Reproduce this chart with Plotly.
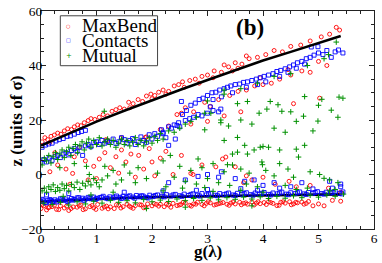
import plotly.graph_objects as go

# ---------------- fit lines ----------------
fit_x = [0, 0.5, 1, 1.5, 2, 2.5, 3, 3.5, 4, 4.5, 5, 5.4]
fit_upper_z = [10.6, 15.0, 19.4, 23.4, 27.3, 31.0, 34.7, 38.3, 41.8, 45.0, 48.3, 50.8]
fit_lower_z = [-9.9, -9.4, -8.9, -8.6, -8.3, -8.1, -7.9, -7.8, -7.6, -7.5, -7.4, -7.3]

# ---------------- MaxBend (red) ----------------
maxbend_upper = [(0.02,12.0),(0.07,13.5),(0.12,12.8),(0.18,14.0),(0.24,14.5),(0.3,15.2),(0.36,14.8),(0.42,16.0),
    (0.48,16.8),(0.55,16.5),(0.6,17.5),(0.66,18.2),(0.72,17.9),(0.78,19.0),(0.85,19.8),(0.9,20.5),(0.97,20.2),
    (1.05,21.0),(1.12,22.0),(1.2,21.5),(1.28,23.2),(1.35,23.8),(1.42,24.5),(1.5,24.0),(1.58,26.5),(1.66,26.0),
    (1.75,27.5),(1.83,26.8),(1.9,28.8),(1.98,29.5),(2.05,29.0),(2.12,30.2),(2.2,31.0),(2.3,30.5),(2.4,32.5),
    (2.48,33.0),(2.58,32.0),(2.68,34.5),(2.78,35.0),(2.9,36.0),(3.0,36.5),(3.12,38.0),(3.25,37.5),(3.38,39.5),
    (3.5,41.0),(3.62,40.5),(3.75,42.5),(3.9,43.0),(4.05,44.0),(4.2,45.5),(4.35,45.0),(4.5,47.0),(4.68,47.5),
    (4.85,49.0),(5.05,50.5),(5.2,51.5),(5.32,54.0),(5.38,53.0),(1.6,24.5),(2.0,27.8),(2.25,29.5),(2.55,34.0),
    (2.85,33.5),(3.1,35.5),(3.3,40.2),(3.55,39.0),(3.7,43.5),(3.45,38.0)]
maxbend_mid = [(2.45,22.0),(2.6,24.5),(2.75,23.0),(2.95,26.5),(3.05,25.0),(3.2,27.5),(3.4,29.0),(3.55,30.5),
    (3.7,31.0),(3.85,32.5),(4.0,33.0),(4.15,33.5),(4.3,35.0),(4.5,36.5),(4.7,38.0),(4.85,37.5),(5.0,41.5),
    (5.15,40.0),(4.45,38.5),(3.95,35.5),(1.2,12.5),(1.45,13.5),(1.9,13.8),(2.3,17.8),(2.53,22.5),(2.15,16.5),
    (2.7,18.5),(3.0,19.5),(3.6,23.0),(4.55,26.0),(5.02,28.0),(3.3,21.5),(0.16,11.8),(1.17,12.8),(1.88,13.6)]
maxbend_scatter = [(0.16,1.0),(0.3,3.5),(0.45,2.0),(0.57,0.4),(0.52,-3.6),(0.69,10.0),(0.8,5.0),(0.95,3.0),
    (1.05,5.7),(1.15,8.0),(1.25,2.5),(1.35,6.5),(1.45,9.0),(1.53,4.6),(1.62,7.5),(1.76,7.0),(1.85,2.0),
    (1.95,9.5),(2.0,4.6),(2.05,-0.5),(2.15,6.0),(2.25,8.5),(2.38,0.0),(2.53,7.0),(2.7,0.4),(2.74,0.0),
    (3.15,2.8),(3.27,5.7),(3.33,6.4),(3.5,2.8),(0.25,8.0),(0.6,6.5),(1.0,-1.5),(1.4,0.5),(0.85,-2.0),
    (2.9,3.5),(3.7,-0.5),(1.7,-1.0),(3.8,-2.0),(4.0,-1.0),(4.22,-3.6),(4.47,-2.5),(4.85,-4.0),(5.18,-5.0),
    (5.4,-6.5),(3.65,-3.0),(4.6,-4.5)]
maxbend_lower = [(0.0,-12.5),(0.05,-11.5),(0.1,-13.0),(0.15,-12.0),(0.2,-11.8),(0.28,-12.8),(0.35,-11.5),
    (0.42,-12.3),(0.5,-13.2),(0.58,-11.9),(0.65,-12.0),(0.72,-11.2),(0.8,-12.6),(0.88,-11.8),(0.95,-12.2),
    (1.02,-11.0),(1.1,-12.4),(1.18,-11.6),(1.25,-11.9),(1.32,-12.5),(1.4,-11.3),(1.48,-11.8),(1.55,-10.9),
    (1.62,-12.0),(1.7,-11.4),(1.78,-11.1),(1.85,-12.2),(1.92,-10.8),(2.0,-11.5),(2.08,-11.0),(2.15,-10.9),
    (2.22,-11.8),(2.3,-11.2),(2.38,-10.6),(2.45,-11.4),(2.52,-11.0),(2.6,-10.5),(2.68,-11.3),(2.75,-10.8),
    (2.82,-10.2),(2.9,-11.0),(2.98,-10.6),(3.05,-10.4),(3.12,-11.2),(3.2,-10.7),(3.28,-10.3),(3.35,-10.9),
    (3.42,-10.5),(3.5,-10.8),(3.58,-10.2),(3.65,-10.6),(3.72,-10.9),(3.8,-10.1),(3.88,-10.5),(3.95,-10.7),
    (4.02,-10.3),(4.1,-10.0),(4.18,-10.6),(4.25,-11.4),(4.32,-10.2),(4.4,-10.5),(4.48,-10.0),(4.55,-10.8),
    (4.62,-10.4),(4.7,-10.1),(4.78,-10.6),(4.9,-11.5),(5.0,-10.8),(5.1,-11.5),(5.25,-9.5),(5.4,-9.8),
    (0.03,-11.0),(0.13,-12.2),(0.24,-11.3),(0.32,-12.9),(0.46,-11.6),(0.54,-12.5),(0.69,-11.5),(0.76,-12.9),
    (0.92,-11.4),(0.99,-12.8),(1.14,-11.9),(1.21,-12.6),(1.36,-11.1),(1.44,-12.3),(1.59,-11.6),(1.66,-12.4),
    (1.81,-11.2),(1.89,-12.0),(2.04,-10.7),(2.12,-11.6),(2.26,-10.9),(2.34,-12.0),(2.49,-11.2),(2.56,-10.2),
    (2.71,-11.6),(2.79,-10.9),(2.94,-11.5),(3.01,-10.0),(3.16,-11.0),(3.24,-10.5),(3.39,-11.3),(3.46,-10.1),
    (3.61,-11.1),(3.69,-10.4),(3.84,-11.2),(3.91,-10.0),(4.06,-11.0),(4.14,-10.3),(4.29,-11.3),(4.36,-10.0),
    (4.51,-11.1),(4.59,-10.2),(4.74,-10.9),(4.82,-9.9)]

# ---------------- Contacts (blue) ----------------
contacts_top = [(0.02,10.0),(0.08,10.8),(0.14,11.2),(0.2,11.5),(0.27,12.3),(0.33,12.8),(0.4,13.2),(0.47,14.0),
    (0.53,14.2),(0.6,14.8),(0.67,15.4),(0.73,15.8),(0.8,16.2)]
contacts_mid = [(0.0,4.5),(0.05,5.5),(0.1,4.6),(0.15,6.0),(0.2,5.2),(0.25,6.5),(0.3,7.0),(0.35,6.2),(0.4,7.5),
    (0.45,8.0),(0.5,7.2),(0.55,8.8),(0.6,9.5),(0.65,8.5),(0.7,10.0),(0.75,7.0),(0.8,10.5),(0.85,11.0),(0.9,10.2),
    (0.95,11.8),(1.0,12.0),(1.05,11.0),(1.1,12.5),(1.15,11.5),(1.2,12.2),(1.23,11.8),(1.3,13.0),(1.35,11.4),
    (1.4,12.0),(1.45,13.5),(1.5,12.8),(1.55,11.5),(1.6,12.5),(1.65,13.2),(1.7,11.0),(1.75,12.0),(1.8,13.8),
    (1.85,12.5),(1.9,11.8),(1.95,14.6),(2.0,13.0),(2.05,15.0),(2.1,14.0),(2.17,16.4),(2.2,15.5),(2.25,13.5),
    (2.3,10.7),(2.35,17.0),(2.42,13.0),(2.45,18.0),(2.5,17.5)]
contacts_rise = [(2.55,22.0),(2.62,23.5),(2.7,25.4),(2.78,26.2),(2.85,27.5),(2.92,28.0),(3.0,29.0),(3.08,30.0),
    (3.15,30.2),(3.22,31.0),(3.3,31.5),(3.36,32.0),(3.42,32.5),(3.5,33.0),(3.58,33.2),(3.65,33.8),(3.72,34.0),
    (3.8,34.5),(3.88,35.0),(3.95,35.5),(4.02,36.0),(4.1,36.5),(4.18,37.0),(4.25,37.8),(4.32,38.2),(4.4,38.8),
    (4.48,39.5),(4.55,40.2),(4.62,41.0),(4.7,41.5),(4.78,42.5),(4.85,43.0),(4.92,43.8),(5.0,44.6),(5.08,44.0),
    (5.15,45.5),(5.23,43.0),(5.3,45.0),(5.36,45.7),(5.44,44.6),(4.87,46.8),(4.99,46.9),(3.1,27.5),(3.45,30.0),
    (3.9,33.0),(4.3,36.0),(4.6,39.0),(4.05,34.0),(3.25,28.5),(3.7,32.0),(4.45,37.5),(4.75,40.5),
    (2.2,15.0),(2.3,17.5),(2.4,18.2),(2.48,19.0),(2.6,19.8),(2.68,20.5),(2.75,21.0),(2.83,22.0),(2.9,21.5),
    (3.0,22.5),(3.1,23.5),(3.2,23.0),(3.24,24.0),(2.53,26.8),(3.05,24.8)]
contacts_scatter = [(2.3,-3.0),(2.83,-0.7),(3.0,0.0),(3.2,-1.0),(3.25,1.0),(3.67,-2.5),(3.84,-2.0),(4.0,-4.0),
    (4.2,-3.0),(4.7,-3.0),(5.2,-2.5),(5.4,-3.5),(4.5,-4.5),(3.5,-1.5),(2.6,-2.0),(0.1,-7.5),(0.5,-7.0),
    (1.5,-6.5),(2.2,-6.0),(3.0,-5.5),(3.6,-5.2),(4.3,-5.0),(4.9,-5.3),(5.25,-5.0),(5.4,-4.5),(2.8,-5.8),(3.9,-5.8)]
contacts_lower = [(0.0,-9.9),(0.04,-9.4),(0.08,-10.2),(0.12,-9.6),(0.16,-9.2),(0.2,-9.9),(0.25,-9.3),(0.3,-9.7),
    (0.35,-8.9),(0.4,-9.5),(0.45,-9.0),(0.5,-9.6),(0.55,-8.8),(0.6,-9.2),(0.65,-8.6),(0.7,-9.3),(0.75,-8.7),
    (0.8,-9.0),(0.85,-8.4),(0.9,-8.9),(0.95,-8.3),(1.0,-8.8),(1.06,-8.5),(1.12,-8.0),(1.18,-8.7),(1.24,-8.2),
    (1.3,-8.6),(1.36,-7.9),(1.42,-8.4),(1.48,-8.0),(1.54,-8.5),(1.6,-7.8),(1.66,-8.3),(1.72,-7.7),(1.78,-8.2),
    (1.84,-7.9),(1.9,-8.4),(1.96,-7.6),(2.02,-8.1),(2.1,-7.5),(2.18,-8.0),(2.26,-7.4),(2.34,-7.9),(2.42,-7.3),
    (2.5,-7.8),(2.58,-7.2),(2.66,-7.7),(2.74,-7.1),(2.82,-7.6),(2.9,-7.0),(2.98,-7.5),(3.06,-6.9),(3.14,-7.6),
    (3.22,-7.0),(3.3,-7.4),(3.38,-6.8),(3.46,-7.5),(3.54,-6.9),(3.62,-7.3),(3.7,-6.7),(3.78,-7.4),(3.86,-6.8),
    (3.94,-7.2),(4.02,-6.6),(4.1,-7.3),(4.18,-6.8),(4.26,-7.1),(4.34,-6.5),(4.42,-7.2),(4.5,-6.7),(4.58,-7.0),
    (4.66,-6.4),(4.74,-7.1),(4.82,-6.6),(4.9,-6.9),(4.98,-6.3),(5.06,-7.0),(5.14,-6.5),(5.22,-6.8),(5.3,-6.2),
    (5.38,-6.9),(5.44,-6.4),
    (0.02,-9.1),(0.1,-10.4),(0.18,-9.5),(0.28,-10.1),(0.38,-9.0),(0.48,-9.9),(0.58,-9.4),(0.68,-8.5),(0.78,-9.5),
    (0.88,-8.7),(0.98,-9.2),(1.09,-8.4),(1.21,-8.9),(1.33,-8.3),(1.45,-8.8),(1.57,-8.1),(1.69,-8.7),(1.81,-7.8),
    (1.93,-8.6),(2.06,-7.7),(2.22,-8.2),(2.38,-7.5),(2.54,-8.0),(2.7,-7.3),(2.86,-7.9),(3.02,-7.2),(3.18,-7.8),
    (3.34,-7.1),(3.5,-7.7),(3.66,-7.0),(3.82,-7.6),(3.98,-6.9),(4.14,-7.5),(4.3,-6.8),(4.46,-7.4),(4.62,-6.7),
    (4.78,-7.3),(4.94,-6.6),(5.1,-7.2),(5.26,-6.6),(5.42,-7.1)]

# ---------------- Mutual (green) ----------------
mutual_mid = [(0.02,3.5),(0.06,6.0),(0.1,5.0),(0.14,7.0),(0.18,4.2),(0.22,6.5),(0.26,8.0),(0.3,5.5),(0.34,7.5),
    (0.38,9.0),(0.42,6.2),(0.46,8.5),(0.5,10.0),(0.54,7.0),(0.58,9.5),(0.62,11.0),(0.66,8.0),(0.7,10.5),
    (0.74,12.0),(0.78,9.0),(0.82,11.5),(0.86,13.0),(0.9,10.0),(0.95,12.5),(1.0,11.0),(1.05,13.5),(1.1,10.5),
    (1.15,12.0),(1.2,13.0),(1.25,11.0),(1.3,12.5),(1.35,10.0),(1.4,11.5),(1.45,13.0),(1.5,11.0),(1.55,12.5),
    (1.6,10.5),(1.65,12.0),(1.7,13.5),(1.75,11.0),(1.8,12.5),(1.85,10.5),(1.9,12.0),(1.95,13.5),(2.0,11.5),
    (2.05,14.0),(2.1,12.5),(2.15,15.0),(2.2,13.0),(2.3,16.0),(2.4,15.5),(2.5,17.0),(2.6,18.5),(2.7,19.5),
    (2.8,21.0),(2.95,22.5),(1.14,23.2),(0.34,2.5),(0.6,4.0),(0.82,3.0)]
mutual_upper = [(3.0,27.0),(3.3,29.5),(3.6,31.5),(3.9,33.5),(4.2,36.0),(4.5,37.0),(4.8,40.0),(5.1,42.5),
    (5.32,48.6),(5.18,44.0),(3.3,31.0),
    (3.06,22.5),(3.24,20.0),(3.54,26.0),(3.72,26.8),(3.6,20.0),(3.24,19.0),(3.38,17.8),(2.95,16.4),
    (4.07,24.0),(4.13,26.8),(4.27,25.6),(4.34,23.2),(4.73,21.4),(5.0,25.4),(5.06,27.6),(5.23,23.6),(5.37,28.4),
    (4.9,16.0),(3.93,22.5),(4.75,28.6),(4.99,19.6),(4.5,23.0),(4.6,19.5),(4.2,17.0),(5.44,28.0),(5.35,21.0),
    (3.8,18.5),(4.4,15.5)]
mutual_scatter = [(2.33,7.0),(2.83,5.7),(3.54,8.2),(3.72,7.5),(3.84,9.0),(3.98,4.6),(3.95,10.0),(4.0,10.3),
    (4.1,10.0),(3.99,3.6),(4.3,9.0),(4.3,4.0),(4.6,9.3),(4.75,10.7),(4.64,6.4),(5.02,0.0),(5.1,-1.4),
    (3.54,13.6),(3.3,12.5),(3.67,10.7),(3.45,7.5),(3.36,3.6),(2.5,3.0),(2.7,1.5),(2.9,2.5),(3.1,4.0),
    (3.3,1.0),(3.45,3.5),(3.6,2.0),(3.75,0.5),(4.05,1.5),(4.2,-0.5),(4.45,2.0),(4.55,-1.0),(4.85,1.0),
    (5.2,-2.0),(5.35,-3.0),(2.2,5.0),(2.4,-1.0),(2.6,-2.5),(2.8,-3.5),(3.0,-1.5),(3.2,-3.0),(3.4,-4.0),
    (3.7,-3.5),(3.9,-4.5),(4.4,-4.0),(4.8,-5.0),(5.3,-5.5),(2.1,0.5),(2.25,-4.5),(2.55,-5.0),(2.95,-4.8)]
mutual_low_left = [(0.02,-6.0),(0.06,-5.0),(0.1,-6.5),(0.14,-4.5),(0.18,-5.5),(0.22,-3.8),(0.26,-6.2),
    (0.3,-4.8),(0.34,-5.8),(0.38,-3.5),(0.42,-5.2),(0.46,-4.0),(0.5,-6.0),(0.55,-3.6),(0.6,-4.8),(0.65,-2.8),
    (0.7,-5.5),(0.75,-3.2),(0.8,-4.2),(0.85,-2.5),(0.9,-3.8),(0.95,-1.5),(1.0,-3.0),(1.05,-4.5),(1.1,-2.0),
    (0.87,0.0),(1.2,-0.5),(1.3,1.5),(1.45,-2.0),(1.6,0.5),(1.75,2.5),(1.9,-1.5),(1.15,3.0),(1.35,-3.5),
    (1.5,3.5),(1.7,-3.0)]
mutual_lower = [(0.05,-10.5),(0.2,-11.0),(0.35,-10.2),(0.5,-11.2),(0.65,-10.0),(0.8,-10.8),(0.95,-9.8),
    (1.1,-10.5),(1.25,-9.5),(1.4,-10.2),(1.55,-9.6),(1.7,-10.4),(1.85,-9.2),(2.0,-10.0),(2.15,-9.4),(2.3,-9.9),
    (2.45,-9.0),(2.6,-9.6),(2.75,-8.8),(2.9,-9.5),(3.05,-8.6),(3.2,-9.3),(3.35,-8.5),(3.5,-9.1),(3.65,-8.3),
    (3.8,-9.0),(3.95,-8.2),(4.1,-8.8),(4.25,-8.0),(4.4,-8.7),(4.55,-7.8),(4.7,-8.5),(4.85,-7.6),(5.0,-8.3),
    (5.15,-7.5),(5.3,-8.0),(5.45,-7.2),(1.3,-6.5),(2.2,-6.0),(3.1,-6.2),(3.6,-5.8),(4.0,-6.5),(4.6,-5.5),
    (5.2,-6.0),(0.4,-8.0),(0.9,-7.5),(2.6,-12.0),(1.9,-12.5),(3.8,-11.5)]

maxbend = maxbend_upper + maxbend_mid + maxbend_scatter + maxbend_lower
contacts = contacts_top + contacts_mid + contacts_rise + contacts_scatter + contacts_lower
mutual = mutual_mid + mutual_upper + mutual_scatter + mutual_low_left + mutual_lower

RED, BLUE, GREEN = "#ff0000", "#0000ff", "#009000"
SERIF = "Liberation Serif"

fig = go.Figure()
fig.add_trace(go.Scatter(x=fit_x, y=fit_lower_z, mode="lines", line=dict(color="black", width=2.6),
                         showlegend=False, hoverinfo="skip"))
fig.add_trace(go.Scatter(x=[p[0] for p in maxbend], y=[p[1] for p in maxbend], mode="markers", name="MaxBend",
                         marker=dict(symbol="circle-open", size=4, color=RED, line=dict(width=0.9, color=RED))))
fig.add_trace(go.Scatter(x=[p[0] for p in contacts], y=[p[1] for p in contacts], mode="markers", name="Contacts",
                         marker=dict(symbol="square-open", size=4, color=BLUE, line=dict(width=0.9, color=BLUE))))
fig.add_trace(go.Scatter(x=[p[0] for p in mutual], y=[p[1] for p in mutual], mode="markers", name="Mutual",
                         marker=dict(symbol="cross-thin", size=4, color=GREEN, line=dict(width=1, color=GREEN))))
fig.add_trace(go.Scatter(x=fit_x, y=fit_upper_z, mode="lines", line=dict(color="black", width=2.6),
                         showlegend=False, hoverinfo="skip"))

axis_common = dict(showline=True, linecolor="#222", linewidth=1, mirror="ticks", ticks="inside",
                   ticklen=5, tickcolor="#222", tickwidth=1, showgrid=False, zeroline=False,
                   ticklabeloverflow="allow",
                   tickfont=dict(family=SERIF, size=13.5, color="black"))
fig.update_xaxes(range=[0, 6], dtick=1, tick0=0, ticklabelstandoff=-3,
                 minor=dict(dtick=0.25, ticks="inside", ticklen=3, tickcolor="#222", showgrid=False),
                 **axis_common)
fig.update_yaxes(range=[-20, 60], dtick=20, tick0=0, ticklabelstandoff=-5,
                 minor=dict(dtick=5, ticks="inside", ticklen=3, tickcolor="#222", showgrid=False),
                 **axis_common)

# manual legend
fig.add_shape(type="rect", xref="paper", yref="paper", x0=0.058, x1=0.350, y0=0.749, y1=0.978,
              line=dict(color="#444", width=1), fillcolor="white", layer="above")
legend_names = ["MaxBend", "Contacts", "Mutual"]
legend_syms = ["○", "□", "+"]
legend_cols = [RED, BLUE, GREEN]
legend_rows = [0.933, 0.865, 0.794]
for name, sym, col, yy in zip(legend_names, legend_syms, legend_cols, legend_rows):
    fig.add_annotation(xref="paper", yref="paper", x=0.083, y=yy, text=sym, showarrow=False,
                       font=dict(family="DejaVu Sans", size=5 if sym != "+" else 7, color=col),
                       xanchor="center", yanchor="middle")
    fig.add_annotation(xref="paper", yref="paper", x=0.116, y=yy, text=name, showarrow=False,
                       font=dict(family=SERIF, size=19, color="black"), xanchor="left", yanchor="middle")

fig.add_annotation(xref="paper", yref="paper", x=0.629, y=0.924, text="<b>(b)</b>", showarrow=False,
                   font=dict(family=SERIF, size=23, color="black"), xanchor="center", yanchor="middle")
fig.add_annotation(xref="paper", yref="paper", x=0.5, y=-0.103, text="<b>g(λ)</b>", showarrow=False,
                   font=dict(family=SERIF, size=17, color="black"), xanchor="center", yanchor="middle")
fig.add_annotation(xref="paper", yref="paper", x=-0.074, y=0.495, text="<b>z (units of σ)</b>", showarrow=False,
                   textangle=-90, font=dict(family=SERIF, size=17, color="black"),
                   xanchor="center", yanchor="middle")

fig.update_layout(width=382, height=263, margin=dict(l=41, r=4, t=6, b=34),
                  paper_bgcolor="white", plot_bgcolor="white", showlegend=False)
fig.write_html("out.html", config={"displayModeBar": False},
               post_script="document.body.style.margin='0px';document.body.style.padding='0px';")
